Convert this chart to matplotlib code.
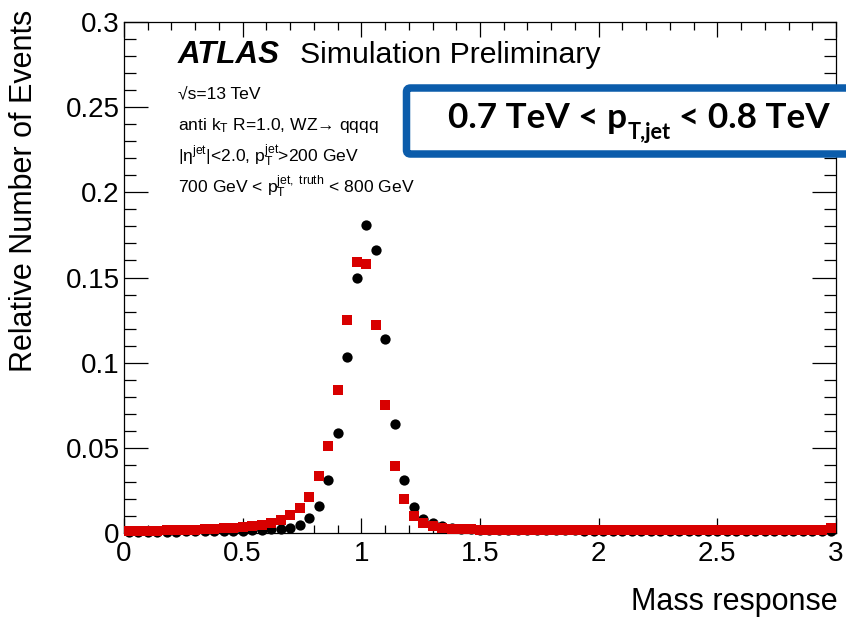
import matplotlib
matplotlib.use('Agg')
import matplotlib.pyplot as plt
import numpy as np
from matplotlib.patches import FancyBboxPatch
from matplotlib.ticker import MultipleLocator, FuncFormatter

plt.rcParams['font.family'] = ['Liberation Sans', 'DejaVu Sans']
plt.rcParams['mathtext.fontset'] = 'custom'
plt.rcParams['mathtext.rm'] = 'Liberation Sans'
plt.rcParams['mathtext.it'] = 'Liberation Sans:italic'
plt.rcParams['mathtext.bf'] = 'Liberation Sans:bold'

# ---- data -------------------------------------------------------------
bin_width = 0.04
n_bins = 75
bin_centers = np.arange(n_bins) * bin_width + bin_width / 2

black_values = [
    0.0006, 0.0006, 0.0007, 0.0007, 0.0008, 0.0008, 0.0009, 0.0009, 0.0010, 0.0011,
    0.0012, 0.0013, 0.0014, 0.0016, 0.0018, 0.0021, 0.0025, 0.0031, 0.0048, 0.0088,
    0.0158, 0.0310, 0.0590, 0.1035, 0.1500, 0.1810, 0.1660, 0.1140, 0.0638, 0.0310,
    0.0152, 0.0082, 0.0058, 0.0042, 0.0032, 0.0026, 0.0022, 0.0019, 0.0018, 0.0017,
    0.0017, 0.0016, 0.0016, 0.0016, 0.0015, 0.0015, 0.0015, 0.0015, 0.0014, 0.0014,
    0.0014, 0.0014, 0.0014, 0.0013, 0.0013, 0.0013, 0.0013, 0.0013, 0.0013, 0.0012,
    0.0012, 0.0012, 0.0012, 0.0012, 0.0012, 0.0012, 0.0011, 0.0011, 0.0011, 0.0011,
    0.0011, 0.0011, 0.0011, 0.0011, 0.0011,
]

red_values = [
    0.0011, 0.0012, 0.0013, 0.0014, 0.0015, 0.0017, 0.0018, 0.0020, 0.0022, 0.0025,
    0.0028, 0.0032, 0.0037, 0.0042, 0.0049, 0.0060, 0.0078, 0.0103, 0.0148, 0.0212,
    0.0336, 0.0510, 0.0840, 0.1250, 0.1590, 0.1580, 0.1220, 0.0752, 0.0395, 0.0200,
    0.0097, 0.0058, 0.0040, 0.0031, 0.0026, 0.0023, 0.0021, 0.0020, 0.0020, 0.0020,
    0.0019, 0.0019, 0.0019, 0.0019, 0.0018, 0.0018, 0.0018, 0.0018, 0.0018, 0.0017,
    0.0017, 0.0017, 0.0017, 0.0017, 0.0017, 0.0016, 0.0016, 0.0016, 0.0016, 0.0016,
    0.0016, 0.0016, 0.0015, 0.0015, 0.0015, 0.0015, 0.0015, 0.0015, 0.0015, 0.0015,
    0.0015, 0.0015, 0.0015, 0.0015, 0.0030,
]

x_label = "Mass response"
y_label = "Relative Number of Events"
x_ticks = [0, 0.5, 1, 1.5, 2, 2.5, 3]
y_ticks = [0, 0.05, 0.1, 0.15, 0.2, 0.25, 0.3]

# ---- figure -----------------------------------------------------------
W, H = 846, 620
fig = plt.figure(figsize=(W / 100, H / 100), dpi=100)
L, R, T, B = 124, 836, 22, 533
ax = fig.add_axes([L / W, 1 - B / H, (R - L) / W, (B - T) / H])

ax.plot(bin_centers, black_values, 'o', color='black', markersize=7.4,
        markeredgewidth=0, clip_on=False, zorder=3)
ax.plot(bin_centers, red_values, 's', color='#d80000', markersize=7.4,
        markeredgewidth=0, clip_on=False, zorder=4)

ax.set_xlim(0, 3)
ax.set_ylim(0, 0.3)
ax.set_xticks(x_ticks)
ax.set_yticks(y_ticks)
ax.xaxis.set_minor_locator(MultipleLocator(0.1))
ax.yaxis.set_minor_locator(MultipleLocator(0.01))
fmt = FuncFormatter(lambda v, p: ('%g' % round(v, 4)))
ax.xaxis.set_major_formatter(fmt)
ax.yaxis.set_major_formatter(fmt)
ax.tick_params(which='both', direction='in', top=True, right=True,
               labelsize=20, width=0.9, color='black')
ax.tick_params(axis='x', which='major', length=11, pad=6)
ax.tick_params(axis='x', which='minor', length=5.5)
ax.tick_params(axis='y', which='major', length=17, pad=3)
ax.tick_params(axis='y', which='minor', length=8.5)
for sp in ax.spines.values():
    sp.set_linewidth(0.9)

# axis titles (ROOT style: aligned to the far end)
fig.text(838 / W, 1 - 610 / H, x_label, ha='right', va='baseline', fontsize=22)
fig.text(24 / W, 1 - 10 / H, y_label, ha='center', va='top', rotation=90,
         fontsize=22)

# ATLAS label
fig.text(178 / W, 1 - 63 / H, "ATLAS", fontsize=22.5, fontweight='bold',
         fontstyle='italic', ha='left', va='baseline')
fig.text(300 / W, 1 - 63 / H, "Simulation Preliminary", fontsize=21.8,
         ha='left', va='baseline')

ann_lines = [
    "\u221As=13 TeV",
    "anti k$_{\\mathrm{T}}$ R=1.0, WZ\u2192 qqqq",
    "|\u03b7$^{\\mathrm{jet}}$|<2.0, p$_{\\mathrm{T}}^{\\mathrm{jet}}$>200 GeV",
    "700 GeV < p$_{\\mathrm{T}}^{\\mathrm{jet,\\ truth}}$ < 800 GeV",
]
ann_base = [98, 130, 161.5, 193]
for txt, yb in zip(ann_lines, ann_base):
    fig.text(178 / W, 1 - yb / H, txt, fontsize=12.6, ha='left', va='baseline')

# Blue box with pT range
box = FancyBboxPatch((406.5, H - 154), 460, 66,
                     boxstyle='round,pad=0,rounding_size=4',
                     linewidth=5.4, edgecolor='#0b5cab', facecolor='white',
                     transform=None, zorder=10, clip_on=False)
fig.patches.append(box)

renderer = fig.canvas.get_renderer()


def build_box_text(size, x0, yb):
    fam = ['Lato', 'DejaVu Sans']
    t1 = fig.text(x0, yb, "0.7 TeV < p", fontsize=size, fontweight='bold',
                  family=fam, transform=None, ha='left', va='baseline', zorder=11)
    w1 = t1.get_window_extent(renderer).width
    sub = size * 0.62
    t2 = fig.text(x0 + w1 + 1, yb - size * 0.42, "T,jet", fontsize=sub,
                  fontweight='bold', family=fam, transform=None, ha='left',
                  va='baseline', zorder=11)
    w2 = t2.get_window_extent(renderer).width
    gap = size * 0.32
    t3 = fig.text(x0 + w1 + 1 + w2 + gap, yb, "< 0.8 TeV", fontsize=size,
                  fontweight='bold', family=fam, transform=None, ha='left',
                  va='baseline', zorder=11)
    w3 = t3.get_window_extent(renderer).width
    return [t1, t2, t3], w1 + 1 + w2 + gap + w3


texts, width = build_box_text(20, 448, H - 128)
for t in texts:
    t.remove()
size = 20 * 384 / width
texts, width = build_box_text(size, 448, H - 128)

fig.savefig('out.png', dpi=100)
